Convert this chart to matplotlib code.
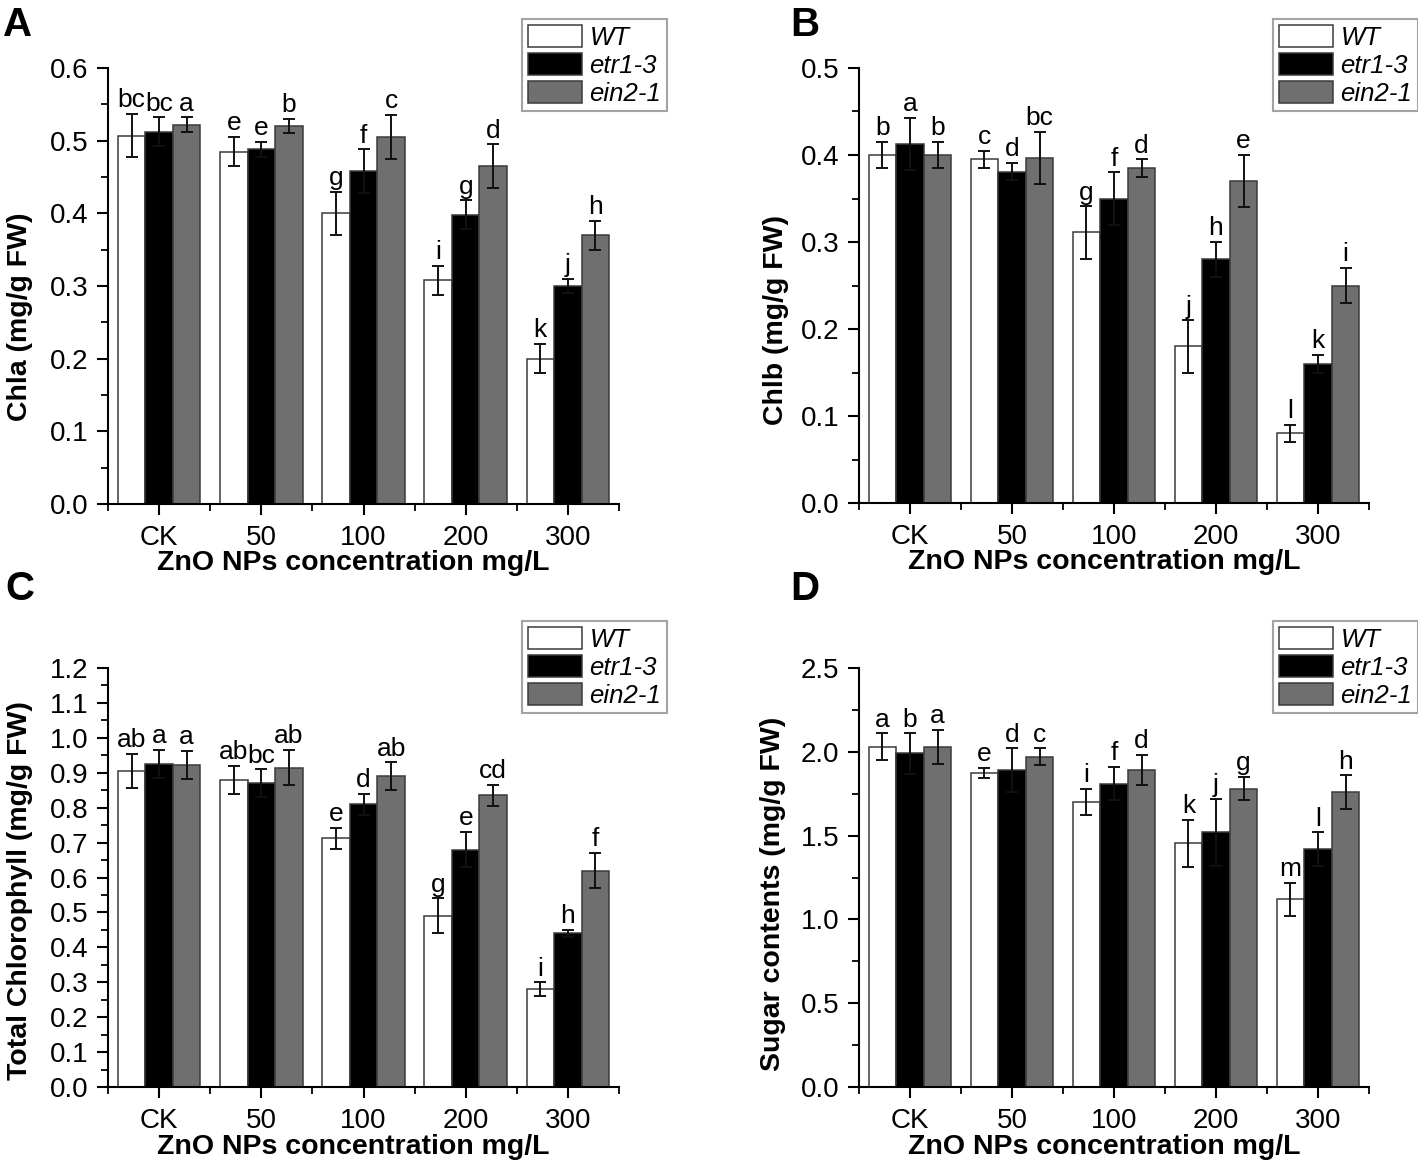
import numpy as np
import matplotlib
matplotlib.use("Agg")
import matplotlib.pyplot as plt
from matplotlib.ticker import MultipleLocator, AutoMinorLocator, FormatStrFormatter
from matplotlib.transforms import ScaledTranslation

plt.rcParams['font.family'] = ['Liberation Sans', 'DejaVu Sans']

groups = ['CK', '50', '100', '200', '300']
genotypes = ['WT', 'etr1-3', 'ein2-1']

# Chla
chla_wt = [0.507, 0.485, 0.400, 0.308, 0.200]
chla_etr = [0.512, 0.488, 0.458, 0.398, 0.300]
chla_ein = [0.522, 0.520, 0.505, 0.465, 0.370]
chla_wt_err = [0.030, 0.020, 0.030, 0.020, 0.020]
chla_etr_err = [0.020, 0.010, 0.030, 0.020, 0.010]
chla_ein_err = [0.010, 0.010, 0.030, 0.030, 0.020]
chla_letters = [['bc', 'e', 'g', 'i', 'k'], ['bc', 'e', 'f', 'g', 'j'], ['a', 'b', 'c', 'd', 'h']]

# Chlb
chlb_wt = [0.400, 0.395, 0.311, 0.180, 0.080]
chlb_etr = [0.413, 0.381, 0.350, 0.280, 0.160]
chlb_ein = [0.400, 0.397, 0.385, 0.370, 0.250]
chlb_wt_err = [0.015, 0.010, 0.030, 0.030, 0.010]
chlb_etr_err = [0.030, 0.010, 0.030, 0.020, 0.010]
chlb_ein_err = [0.015, 0.030, 0.010, 0.030, 0.020]
chlb_letters = [['b', 'c', 'g', 'j', 'l'], ['a', 'd', 'f', 'h', 'k'], ['b', 'bc', 'd', 'e', 'i']]

# Total chlorophyll
tot_wt = [0.905, 0.880, 0.713, 0.490, 0.280]
tot_etr = [0.925, 0.870, 0.810, 0.680, 0.440]
tot_ein = [0.922, 0.915, 0.890, 0.835, 0.620]
tot_wt_err = [0.050, 0.040, 0.030, 0.050, 0.020]
tot_etr_err = [0.040, 0.040, 0.030, 0.050, 0.010]
tot_ein_err = [0.040, 0.050, 0.040, 0.030, 0.050]
tot_letters = [['ab', 'ab', 'e', 'g', 'i'], ['a', 'bc', 'd', 'e', 'h'], ['a', 'ab', 'ab', 'cd', 'f']]

# Sugar
sug_wt = [2.03, 1.875, 1.70, 1.455, 1.12]
sug_etr = [1.99, 1.89, 1.81, 1.52, 1.42]
sug_ein = [2.03, 1.97, 1.89, 1.78, 1.76]
sug_wt_err = [0.08, 0.03, 0.08, 0.14, 0.10]
sug_etr_err = [0.12, 0.13, 0.10, 0.20, 0.10]
sug_ein_err = [0.10, 0.05, 0.09, 0.07, 0.10]
sug_letters = [['a', 'e', 'i', 'k', 'm'], ['b', 'd', 'f', 'j', 'l'], ['a', 'c', 'd', 'g', 'h']]

colors = ['white', 'black', '#6f6f6f']
W, H = 1418, 1163
fig = plt.figure(figsize=(W / 100, H / 100), dpi=100)


def px_axes(x0, y0, x1, y1):
    return fig.add_axes([x0 / W, 1 - y1 / H, (x1 - x0) / W, (y1 - y0) / H])


def panel(ax, vals, errs, letters, ymax, ystep, ylabel, ylab_xy, xlab_y, leg_xy, tag, tag_xy):
    x = np.arange(len(groups))
    bw = 0.27
    for i in range(3):
        xs = x + (i - 1) * bw
        ax.bar(xs, vals[i], bw, color=colors[i], edgecolor='#3a3a3a', linewidth=1.1,
               label=genotypes[i], zorder=2)
        ax.errorbar(xs, vals[i], yerr=errs[i], fmt='none', ecolor='#111111',
                    elinewidth=1.4, capsize=4.5, capthick=1.4, zorder=3)
        for j in range(len(groups)):
            ax.text(xs[j], vals[i][j] + errs[i][j] + ymax * 0.004, letters[i][j],
                    ha='center', va='bottom', fontsize=19)
    ax.set_xlim(-0.5, 4.5)
    ax.set_ylim(0, ymax)
    ax.yaxis.set_major_locator(MultipleLocator(ystep))
    ax.yaxis.set_minor_locator(AutoMinorLocator(2))
    ax.yaxis.set_major_formatter(FormatStrFormatter('%.1f'))
    ax.set_xticks(x)
    ax.set_xticks(np.arange(-0.5, 5, 1), minor=True)
    ax.set_xticklabels(groups)
    offs = [(19, 0), (16, -6), (11, 0), (9, 0), (2, 0)]
    for lab, (dx, dy) in zip(ax.get_xticklabels(), offs):
        lab.set_transform(lab.get_transform() + ScaledTranslation(dx / 100, dy / 100, fig.dpi_scale_trans))
    for s in ['top', 'right']:
        ax.spines[s].set_visible(False)
    for s in ['left', 'bottom']:
        ax.spines[s].set_linewidth(1.5)
    ax.tick_params(which='major', direction='out', length=8, width=1.5, labelsize=20)
    ax.tick_params(which='minor', direction='out', length=5, width=1.3)
    ax.tick_params(axis='y', which='major', pad=6)
    ax.tick_params(axis='x', which='major', pad=7)
    ax.set_xlabel('ZnO NPs concentration mg/L', fontsize=20.5, fontweight='bold')
    ax.xaxis.set_label_coords(0.48, xlab_y)
    ax.xaxis.label.set_verticalalignment('center')
    ax.set_ylabel(ylabel, fontsize=20.5, fontweight='bold')
    ax.yaxis.set_label_coords(ylab_xy[0], ylab_xy[1])
    ax.yaxis.label.set_verticalalignment('center')
    leg = ax.legend(loc='upper left', bbox_to_anchor=(leg_xy[0] / W, 1 - leg_xy[1] / H),
                    bbox_transform=fig.transFigure, frameon=True, fancybox=False,
                    edgecolor='#8c8c8c', handlelength=2.1, handleheight=0.95,
                    labelspacing=0.12, borderpad=0.22, handletextpad=0.3, borderaxespad=0,
                    prop={'style': 'italic', 'size': 18.5})
    leg.get_frame().set_linewidth(1.5)
    fig.text(tag_xy[0] / W, 1 - tag_xy[1] / H, tag, fontsize=29, fontweight='bold',
             ha='left', va='top')


axA = px_axes(108, 68, 619, 504)
panel(axA, [chla_wt, chla_etr, chla_ein], [chla_wt_err, chla_etr_err, chla_ein_err],
      chla_letters, 0.6, 0.1, 'Chla (mg/g FW)', (-0.172, 0.43), -0.135, (522, 19), 'A', (3, 6))

axB = px_axes(859, 68, 1369, 503)
panel(axB, [chlb_wt, chlb_etr, chlb_ein], [chlb_wt_err, chlb_etr_err, chlb_ein_err],
      chlb_letters, 0.5, 0.1, 'Chlb (mg/g FW)', (-0.162, 0.42), -0.135, (1273, 19), 'B', (790, 6))

axC = px_axes(108, 668, 619, 1087)
panel(axC, [tot_wt, tot_etr, tot_ein], [tot_wt_err, tot_etr_err, tot_ein_err],
      tot_letters, 1.2, 0.1, 'Total Chlorophyll (mg/g FW)', (-0.173, 0.47), -0.143, (522, 621), 'C', (5, 570))

axD = px_axes(859, 668, 1369, 1087)
panel(axD, [sug_wt, sug_etr, sug_ein], [sug_wt_err, sug_etr_err, sug_ein_err],
      sug_letters, 2.5, 0.5, 'Sugar contents (mg/g FW)', (-0.169, 0.46), -0.143, (1273, 621), 'D', (790, 570))

fig.savefig('out.png', dpi=100)
